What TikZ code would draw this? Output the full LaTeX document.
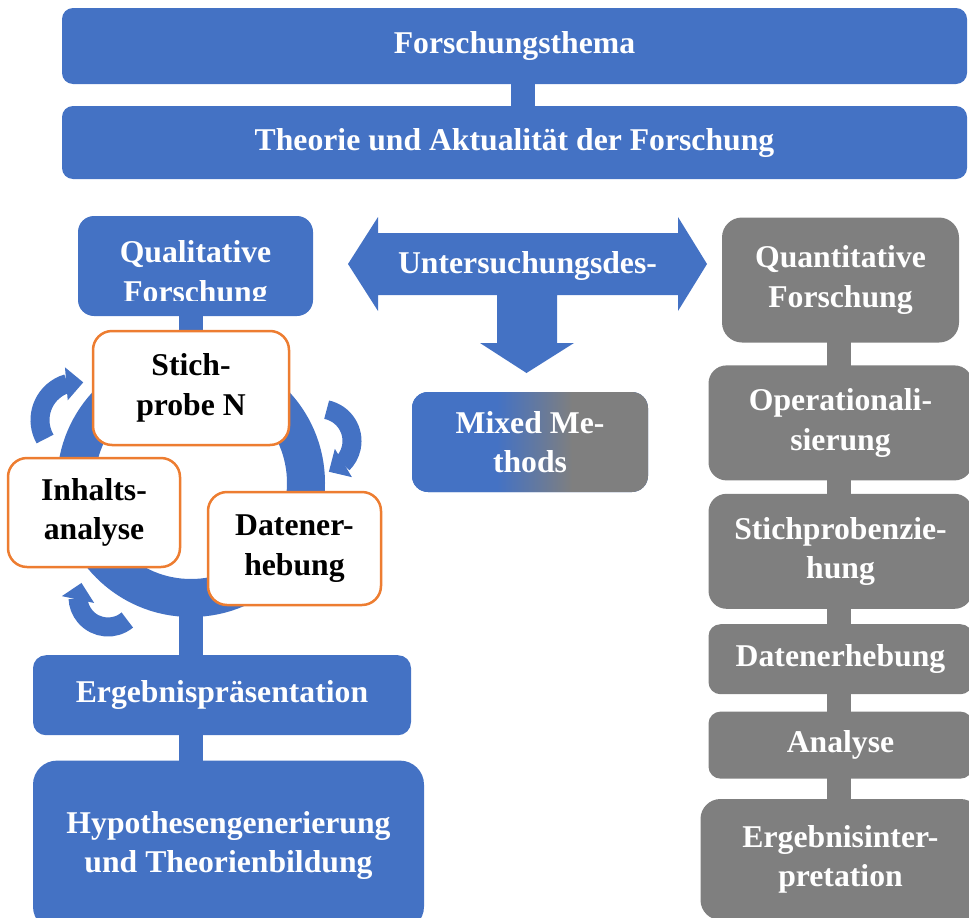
\documentclass[tikz,border=0pt]{standalone}
\usepackage{fontspec}
\setmainfont{Liberation Serif}
\usepackage{xcolor}
\usetikzlibrary{positioning}
\usetikzlibrary{backgrounds,arrows.meta,bending}

\definecolor{qblue}{HTML}{4472C4}
\definecolor{qgray}{HTML}{7F7F7F}
\definecolor{qorange}{HTML}{ED7D31}
\pgfdeclarehorizontalshading{mixedshade}{100bp}{color(0bp)=(qblue); color(43bp)=(qblue); color(59bp)=(qgray); color(100bp)=(qgray)}
\newcommand{\boxfont}{\fontsize{31.7pt}{39.5pt}\selectfont\bfseries}

\begin{document}
\begin{tikzpicture}[x=1pt, y=-1pt,
		bluebox/.style={rectangle, fill=qblue, text=white, rounded corners=12pt, align=center, font=\boxfont, inner sep=0pt},
		graybox/.style={bluebox, fill=qgray},
		cyclebox/.style={rectangle, draw=qorange, line width=2.5pt, fill=white, text=black, rounded corners=19pt, align=center, font=\boxfont, inner sep=0pt},
		bluebar/.style={qblue, line width=24pt},
		graybar/.style={qgray, line width=24pt},
		cyclearrow/.style={qblue, line width=19pt, -{Triangle[width=32pt,length=17pt]}},
		]
		\useasboundingbox (0,0) rectangle (969,918);
		
		%Top
		\node[bluebox, minimum width=905pt, minimum height=76pt, rounded corners=11pt] (thema)   at (514.5,46)    {Forschungsthema};
		\node[bluebox, minimum width=905pt, minimum height=73pt, rounded corners=11pt] (theorie) at (514.5,142.5) {Theorie und Aktualität der Forschung};
		
		%Design arrow
		\fill[qblue] (348,264) -- (378,217) -- (378,233) -- (678,233) -- (678,217) -- (707,264) -- (678,311) -- (678,295)
		  -- (557,295) -- (557,343) -- (574,343) -- (526.5,373) -- (480,343) -- (497,343) -- (497,295)
		  -- (378,295) -- (378,311) -- cycle;
		\node[bluebox, fill=none] (design) at (527.5,266) {Untersuchungsdes-};
		\node[bluebox, shading=mixedshade, minimum width=236pt, minimum height=100pt, rounded corners=16pt] (mixed) at (530,442) {Mixed Me-\\thods};
		
		%Qualitative
		\node[bluebox, minimum width=235pt, minimum height=100pt, rounded corners=16pt] (quali) at (195.5,266) {};
		\begin{scope}
			\clip (quali.north west) rectangle ([yshift=16pt]quali.south east);
			\node[bluebox, fill=none] (qualitext) at ([yshift=-9pt]quali.center) {Qualitative\\Forschung};
		\end{scope}
		
		% Cycle
		\node[circle, draw=qblue, line width=38pt, minimum size=230pt] (ring) at (191,483) {};
		\draw[cyclearrow] (78,420) ++(150:38) arc[start angle=150, end angle=278, radius=38];
		\draw[cyclearrow] (320,441) ++(-78:32) arc[start angle=-78, end angle=74, radius=32];
		\draw[cyclearrow] (108,597) ++(50:30) arc[start angle=50, end angle=208, radius=30];
		\node[cyclebox, minimum width=196pt, minimum height=114pt] (stich)  at (191,388)     {Stich-\\probe N};
		\node[cyclebox, minimum width=172pt, minimum height=109pt] (inhalt) at (94,512.5)    {Inhalts-\\analyse};
		\node[cyclebox, minimum width=173pt, minimum height=113pt] (daten)  at (294.5,548.5) {Datener-\\hebung};
		
		\node[bluebox, minimum width=378pt, minimum height=80pt, rounded corners=13pt] (erg) [below=38pt of ring, xshift=31pt] {Ergebnispräsentation};
		\node[bluebox, minimum width=391pt, minimum height=170pt, rounded corners=24pt] (hypo) [below=25pt of erg, xshift=6.5pt] {Hypothesengenerierung\\und Theorienbildung};
		
		%Quantitative
		\node[graybox, minimum width=237pt, minimum height=125pt, rounded corners=20pt] (quanti) at (840.5,280) {Quantitative\\Forschung};
		\node[graybox, minimum width=264pt, minimum height=115pt, rounded corners=18pt] (oper)    [below=22.5pt of quanti] {Operationali-\\sierung};
		\node[graybox, minimum width=264pt, minimum height=115pt, rounded corners=18pt] (ziehung) [below=13pt of oper]     {Stichprobenzie-\\hung};
		\node[graybox, minimum width=264pt, minimum height=70pt]                        (datenr)  [below=15pt of ziehung]  {Datenerhebung};
		\node[graybox, minimum width=264pt, minimum height=67pt]                        (analyse) [below=17pt of datenr]   {Analyse};
		\node[graybox, minimum width=280pt, minimum height=121pt, rounded corners=20pt] (interp)  [below=20pt of analyse]  {Ergebnisinter-\\pretation};
		
		%Bars
		\begin{pgfonlayer}{background}
			\draw[bluebar] ([xshift=8pt]thema.center) -- ([xshift=8pt]theorie.center);
			\draw[bluebar] (stich.center) -- (stich.center |- quali.center);
			\draw[bluebar] ([yshift=10pt]ring.south) -- (ring.south |- erg.center);
			\draw[bluebar] (erg.center -| ring.south) -- (hypo.center -| ring.south);
			\foreach \a/\b in {quanti/oper, oper/ziehung, ziehung/datenr, datenr/analyse, analyse/interp}
				\draw[graybar] ([xshift=-1.5pt]\a.center) -- ([xshift=-1.5pt]\a.center |- \b.center);
		\end{pgfonlayer}
	\end{tikzpicture}
\end{document}
